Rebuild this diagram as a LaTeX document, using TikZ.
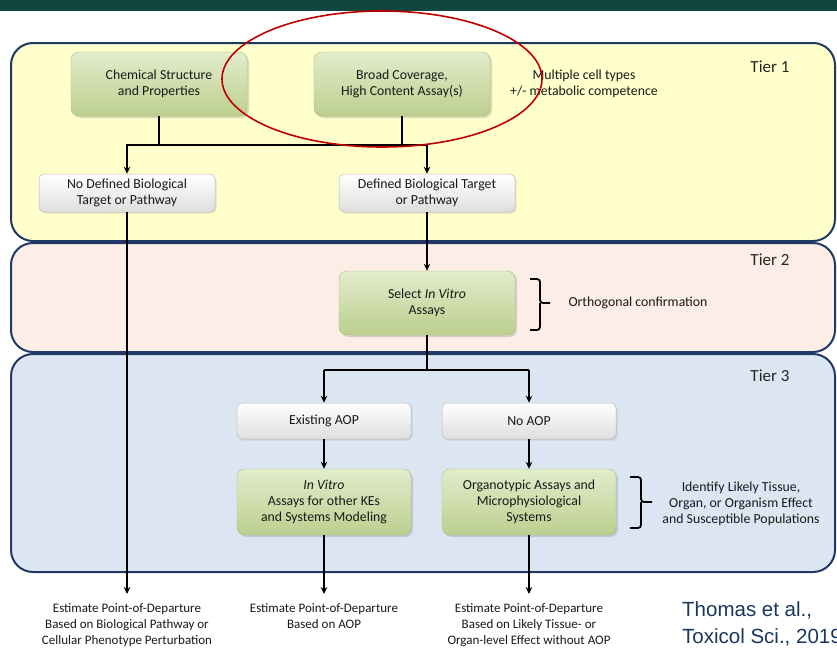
\documentclass[tikz,border=0pt]{standalone}
\usepackage{fontspec}
\setmainfont{Carlito}
\newfontfamily\citefont{Liberation Sans}
\usetikzlibrary{arrows.meta,shadows}

\definecolor{barcol}{RGB}{15,70,63}
\definecolor{edgeblue}{RGB}{31,56,100}
\definecolor{tierone}{RGB}{255,255,204}
\definecolor{tiertwo}{RGB}{252,238,231}
\definecolor{tierthree}{RGB}{220,230,242}
\definecolor{gtop}{RGB}{226,236,204}
\definecolor{gbot}{RGB}{188,207,142}
\definecolor{gedge}{RGB}{170,190,130}
\definecolor{wbot}{RGB}{222,222,222}
\definecolor{txt}{RGB}{25,25,25}
\definecolor{citeblue}{RGB}{23,55,94}
\definecolor{ringred}{RGB}{192,0,0}

\begin{document}
\begin{tikzpicture}[x=1pt,y=-1pt,
    panel/.style={draw=edgeblue, line width=2pt, rounded corners=22pt},
    greenbox/.style={rounded corners=8pt, top color=gtop, bottom color=gbot,
      draw=gedge, line width=0.4pt,
      drop shadow={opacity=0.3, shadow xshift=2pt, shadow yshift=-2pt},
      minimum width=176pt, minimum height=64pt, inner sep=2pt,
      align=center, text=txt, font=\fontsize{13.8}{16}\selectfont},
    whitebox/.style={rounded corners=5pt, top color=white, bottom color=wbot,
      draw=gray!55, line width=0.5pt,
      drop shadow={opacity=0.2, shadow xshift=1.5pt, shadow yshift=-1.5pt},
      minimum width=176pt, minimum height=38pt, inner sep=2pt,
      align=center, text=txt, font=\fontsize{13.8}{16}\selectfont},
    note/.style={align=center, text=txt, font=\fontsize{13.8}{16}\selectfont},
    podtext/.style={align=center, text=txt, anchor=north, inner sep=0pt,
      font=\fontsize{13}{16}\selectfont},
    tier/.style={text=black!85, font=\fontsize{17}{20}\selectfont},
    conn/.style={line width=1.8pt},
    arr/.style={line width=1.8pt, -{Stealth[length=7pt,width=6.5pt]}},
    bracket/.style={line width=1.8pt, rounded corners=3pt}
  ]
  \useasboundingbox (0,0) rectangle (837,648);
  \fill[barcol] (0,0) rectangle (837,11);

  % tiers
  \draw[panel, fill=tierthree] (11,354) rectangle (835,572);
  \draw[panel, fill=tiertwo] (11,243) rectangle (835,352);
  \draw[panel, fill=tierone] (11,43) rectangle (835,241);
  \node[tier] (t1) at (770,67) {Tier 1};
  \node[tier] (t2) at (770,260) {Tier 2};
  \node[tier] (t3) at (770,376) {Tier 3};

  % tier 1
  \node[greenbox] (chem) at (159,84) {Chemical Structure\\and Properties};
  \node[greenbox] (broad) at (402,84) {Broad Coverage,\\High Content Assay(s)};
  \node[note] (cells) at (584,84) {Multiple cell types\\+/- metabolic competence};
  \node[whitebox] (nodef) at (127,193) {No Defined Biological\\Target or Pathway};
  \node[whitebox] (def) at (427,193) {Defined Biological Target\\or Pathway};

  \coordinate (s1) at (0,145);
  \draw[conn] (chem.south) -- (chem.south |- s1) -- (broad.south |- s1) -- (broad.south);
  \draw[arr] (chem.south |- s1) -| (nodef.north);
  \draw[arr] (broad.south |- s1) -| (def.north);

  \draw[ringred, line width=1.6pt] (382,79) ellipse (160 and 68);

  % tier 2
  \node[greenbox] (select) at (427,303) {Select \textit{In Vitro}\\Assays};
  \draw[arr] (def.south) -- (select.north);
  \draw[bracket] (530,279) -- (540,279) -- (540,303) -- (550,303)
    (540,303) -- (540,330) -- (530,330);
  \node[note, anchor=west] (ortho) at (565,303) {Orthogonal confirmation};

  % tier 3
  \node[whitebox, minimum width=174pt, minimum height=36pt] (aop) at (324,421) {Existing AOP};
  \node[whitebox, minimum width=174pt, minimum height=36pt] (noaop) at (529,421) {No AOP};
  \node[greenbox, minimum width=174pt, minimum height=66pt] (invitro) at (324,502)
    {\textit{In Vitro}\\Assays for other KEs\\and Systems Modeling};
  \node[greenbox, minimum width=174pt, minimum height=66pt] (organo) at (529,502)
    {Organotypic Assays and\\Microphysiological\\Systems};

  \coordinate (s2) at (0,370);
  \draw[conn] (select.south) -- (select.south |- s2);
  \draw[conn] (aop.north |- s2) -- (noaop.north |- s2);
  \draw[arr] (aop.north |- s2) -- (aop.north);
  \draw[arr] (noaop.north |- s2) -- (noaop.north);
  \draw[arr] (aop) -- (invitro);
  \draw[arr] (noaop) -- (organo);

  \draw[bracket] (630,477) -- (641,477) -- (641,502) -- (652,502)
    (641,502) -- (641,528) -- (630,528);
  \node[note] (tissue) at (741,504) {Identify Likely Tissue,\\Organ, or Organism Effect\\and Susceptible Populations};

  % points of departure
  \node[podtext] (pod1) at (127,603) {Estimate Point-of-Departure\\Based on Biological Pathway or\\Cellular Phenotype Perturbation};
  \node[podtext] (pod2) at (324,603) {Estimate Point-of-Departure\\Based on AOP};
  \node[podtext] (pod3) at (529,603) {Estimate Point-of-Departure\\Based on Likely Tissue- or\\Organ-level Effect without AOP};
  \draw[arr] (nodef.south) -- ([yshift=9pt]pod1.north);
  \draw[arr] (invitro.south) -- ([yshift=9pt]pod2.north);
  \draw[arr] (organo.south) -- ([yshift=9pt]pod3.north);

  \node[anchor=base west, text=citeblue, inner sep=0pt, align=left,
    font=\citefont\fontsize{20.5}{27}\selectfont] (cite) at (682,643)
    {Thomas et al.,\\Toxicol Sci., 2019};
\end{tikzpicture}
\end{document}
